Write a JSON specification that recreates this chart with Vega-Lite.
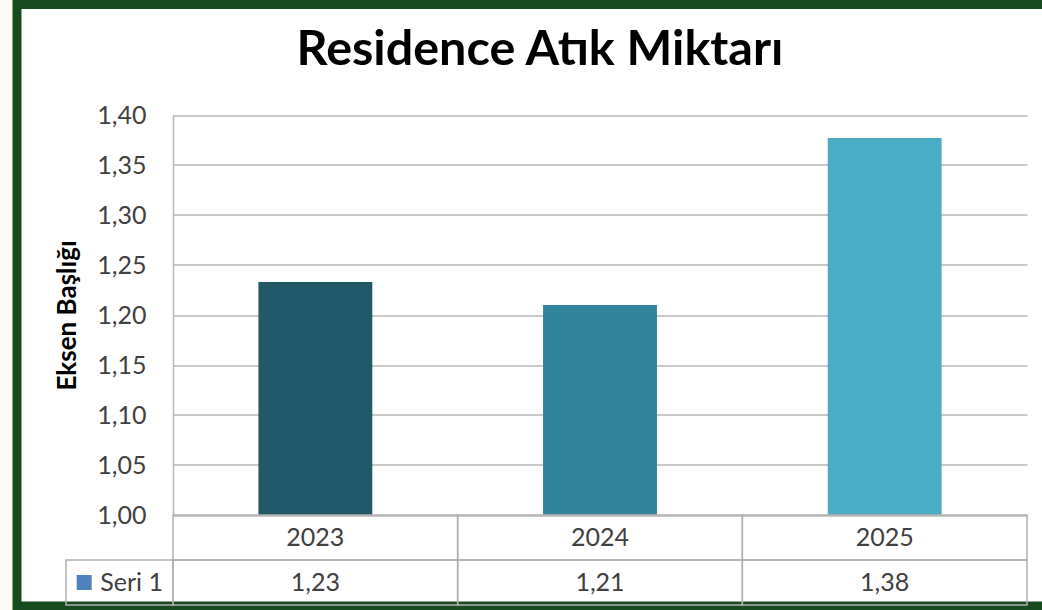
{
  "$schema": "https://vega.github.io/schema/vega-lite/v6.json",
  "width": 1030,
  "height": 601.5,
  "autosize": {"type": "none"},
  "padding": {"left": 17, "top": 4.5, "right": -5, "bottom": 4},
  "background": "#fbfaf4",
  "view": {"fill": "#ffffff", "stroke": "#184c1e", "strokeWidth": 9},
  "config": {
    "font": "Lato",
    "locale": {"number": {"decimal": ",", "thousands": ".", "grouping": [3], "currency": ["", " TL"]}}
  },
  "title": {
    "text": "Residence Atık Miktarı",
    "font": "Lato",
    "fontSize": 48.5,
    "fontWeight": "bold",
    "color": "#000000",
    "anchor": "middle",
    "frame": "group",
    "baseline": "alphabetic",
    "offset": -109,
    "dx": 8
  },
  "data": {"values": [
    {"year": "2023", "value": 1.233},
    {"year": "2024", "value": 1.21},
    {"year": "2025", "value": 1.377}
  ]},
  "layer": [
    {
      "mark": {"type": "bar", "width": {"band": 0.4}},
      "encoding": {
        "x": {"field": "year", "type": "nominal", "scale": {"type": "band", "domain": ["2023", "2024", "2025"], "range": [156, 1010], "paddingInner": 0, "paddingOuter": 0}, "axis": null},
        "y": {
          "field": "value", "type": "quantitative",
          "scale": {"domain": [1, 1.4], "range": [510.5, 110.5], "zero": false, "nice": false},
          "axis": {
            "title": "Eksen Başlığı",
            "values": [1, 1.05, 1.1, 1.15, 1.2, 1.25, 1.3, 1.35, 1.4],
            "format": ".2f",
            "offset": -156,
            "grid": true, "gridColor": "#b7b7b7", "gridWidth": 1.5,
            "domain": true, "domainColor": "#b7b7b7", "domainWidth": 1.5,
            "ticks": false,
            "labelPadding": 27,
            "labelFont": "Lato", "labelFontSize": 25, "labelColor": "#404040",
            "labelFlush": false, "labelOverlap": false,
            "titleFont": "Lato", "titleFontSize": 26, "titleFontWeight": "bold", "titleColor": "#000000",
            "titlePadding": 16
          }
        },
        "y2": {"datum": 1},
        "color": {"field": "year", "type": "nominal", "scale": {"domain": ["2023", "2024", "2025"], "range": ["#215968", "#31849b", "#4bacc6"]}, "legend": null}
      }
    },
    {
      "layer": [
        {
          "mark": {"type": "rect", "fillOpacity": 0, "stroke": "#b0b0b0", "strokeWidth": 1.5},
          "encoding": {
            "x": {"field": "year", "type": "nominal", "scale": {"type": "band", "domain": ["2023", "2024", "2025"], "range": [156, 1010], "paddingInner": 0, "paddingOuter": 0}, "axis": null},
            "y": {"datum": "yıl", "type": "nominal", "scale": {"type": "band", "domain": ["yıl", "Seri 1"], "range": [510.5, 600.5], "paddingInner": 0, "paddingOuter": 0}, "axis": null}
          }
        },
        {
          "mark": {"type": "rect", "fillOpacity": 0, "stroke": "#b0b0b0", "strokeWidth": 1.5},
          "encoding": {
            "x": {"field": "year", "type": "nominal"},
            "y": {"datum": "Seri 1", "type": "nominal"}
          }
        },
        {
          "mark": {"type": "text", "fontSize": 25, "color": "#404040", "align": "center", "baseline": "middle"},
          "encoding": {
            "x": {"field": "year", "type": "nominal"},
            "y": {"datum": "yıl", "type": "nominal"},
            "text": {"field": "year", "type": "nominal"}
          }
        },
        {
          "mark": {"type": "text", "fontSize": 25, "color": "#404040", "align": "center", "baseline": "middle"},
          "encoding": {
            "x": {"field": "year", "type": "nominal"},
            "y": {"datum": "Seri 1", "type": "nominal"},
            "text": {"field": "value", "type": "quantitative", "format": ".2f"}
          }
        }
      ]
    },
    {
      "data": {"values": [{"series": "Seri 1"}]},
      "layer": [
        {
          "mark": {"type": "rect", "fillOpacity": 0, "stroke": "#b0b0b0", "strokeWidth": 1.5},
          "encoding": {
            "x": {"field": "series", "type": "nominal", "scale": {"type": "band", "domain": ["Seri 1"], "range": [49, 156], "paddingInner": 0, "paddingOuter": 0}, "axis": null},
            "y": {"field": "series", "type": "nominal", "scale": {"type": "band", "domain": ["yıl", "Seri 1"], "range": [510.5, 600.5], "paddingInner": 0, "paddingOuter": 0}, "axis": null}
          }
        },
        {
          "mark": {"type": "point", "shape": "square", "filled": true, "size": 225, "color": "#4f81bd", "opacity": 1},
          "encoding": {
            "x": {"field": "series", "type": "nominal", "bandPosition": 0.17},
            "y": {"field": "series", "type": "nominal"}
          }
        },
        {
          "mark": {"type": "text", "fontSize": 25, "color": "#404040", "align": "left", "baseline": "middle"},
          "encoding": {
            "x": {"field": "series", "type": "nominal", "bandPosition": 0.32},
            "y": {"field": "series", "type": "nominal"},
            "text": {"field": "series", "type": "nominal"}
          }
        }
      ]
    }
  ],
  "resolve": {"scale": {"x": "independent", "y": "independent", "color": "independent"}}
}
